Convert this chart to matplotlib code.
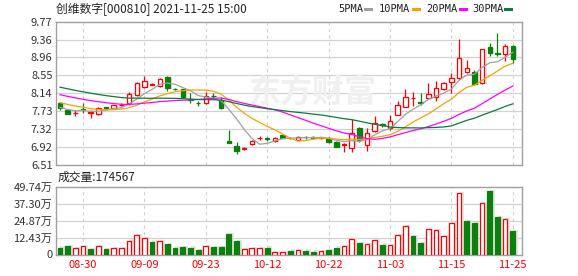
import matplotlib
matplotlib.use('Agg')
import matplotlib.pyplot as plt
import numpy as np
import pandas as pd
from matplotlib.lines import Line2D

plt.rcParams['font.family'] = ['Noto Sans CJK SC', 'DejaVu Sans']

# data (price in yuan, volume in 万)
dates = ['08-25', '08-26', '08-27', '08-30', '08-31', '09-01', '09-02', '09-03', '09-06', '09-07',
         '09-08', '09-09', '09-10', '09-13', '09-14', '09-15', '09-16', '09-17', '09-22', '09-23',
         '09-24', '09-27', '09-28', '09-29', '09-30', '10-08', '10-11', '10-12', '10-13', '10-14',
         '10-15', '10-18', '10-19', '10-20', '10-21', '10-22', '10-25', '10-26', '10-27', '10-28',
         '10-29', '11-01', '11-02', '11-03', '11-04', '11-05', '11-08', '11-09', '11-10', '11-11',
         '11-12', '11-15', '11-16', '11-17', '11-18', '11-19', '11-22', '11-23', '11-24', '11-25']

opens = [7.91, 7.76, 7.69, 7.79, 7.69, 7.66, 7.82, 7.80, 7.87, 7.93,
         8.10, 8.28, 8.34, 8.31, 8.52, 8.24, 8.23, 8.01, 7.92, 7.92,
         8.09, 8.00, 7.05, 6.94, 6.87, 6.98, 7.12, 7.12, 7.05, 7.19,
         7.13, 7.09, 7.15, 7.14, 7.12, 7.13, 7.04, 6.96, 6.90, 7.36,
         6.97, 7.29, 7.44, 7.35, 7.65, 7.84, 8.03, 7.95, 8.04, 8.06,
         8.23, 8.39, 8.50, 8.63, 8.63, 8.37, 9.20, 9.06, 9.03, 9.22]
highs = [7.95, 7.77, 7.76, 7.91, 7.75, 7.83, 7.84, 7.88, 7.91, 8.16,
         8.40, 8.53, 8.38, 8.50, 8.53, 8.27, 8.25, 8.14, 7.96, 8.16,
         8.14, 8.05, 7.31, 7.04, 6.93, 7.08, 7.16, 7.14, 7.14, 7.20,
         7.15, 7.17, 7.16, 7.16, 7.15, 7.14, 7.05, 7.02, 7.55, 7.37,
         7.35, 7.62, 7.46, 7.65, 7.97, 8.23, 8.18, 8.15, 8.38, 8.42,
         8.40, 8.61, 9.38, 8.91, 8.67, 9.15, 9.29, 9.52, 9.26, 9.23]
lows = [7.76, 7.66, 7.63, 7.70, 7.57, 7.65, 7.79, 7.79, 7.85, 7.88,
        8.08, 8.27, 8.32, 8.29, 8.20, 8.21, 8.03, 7.93, 7.86, 7.90,
        8.03, 7.78, 7.02, 6.76, 6.86, 6.97, 7.07, 7.05, 7.04, 7.12,
        7.10, 7.07, 7.11, 7.11, 7.10, 7.02, 6.91, 6.81, 6.80, 7.04,
        6.83, 7.27, 7.37, 7.31, 7.64, 7.83, 7.86, 7.88, 8.03, 7.96,
        8.22, 8.14, 8.45, 8.60, 8.33, 8.36, 9.00, 9.00, 8.88, 8.84]
closes = [7.80, 7.67, 7.70, 7.77, 7.71, 7.81, 7.80, 7.87, 7.88, 8.12,
          8.37, 8.43, 8.35, 8.46, 8.26, 8.23, 8.05, 8.00, 7.91, 8.09,
          8.07, 7.80, 7.02, 6.82, 6.89, 7.06, 7.13, 7.10, 7.12, 7.13,
          7.12, 7.15, 7.14, 7.13, 7.14, 7.03, 6.93, 6.98, 7.23, 7.08,
          7.23, 7.46, 7.42, 7.51, 7.87, 8.05, 8.04, 7.93, 8.12, 8.26,
          8.37, 8.50, 8.94, 8.71, 8.35, 9.14, 9.05, 9.04, 9.22, 8.92]
volumes = [5.1, 6.5, 4.9, 6.1, 4.1, 6.1, 4.1, 4.9, 4.9, 9.9,
           14.3, 12.1, 9.5, 9.9, 8.0, 5.1, 5.8, 5.1, 3.6, 6.3,
           5.8, 5.8, 15.3, 10.2, 4.1, 4.9, 4.9, 5.1, 1.9, 1.9,
           2.9, 3.4, 2.9, 2.2, 2.7, 3.6, 5.1, 6.1, 11.2, 8.7,
           7.8, 10.7, 7.3, 7.0, 14.3, 20.9, 13.6, 8.7, 18.7, 18.0,
           13.6, 23.0, 45.4, 24.7, 23.3, 37.6, 46.6, 27.7, 26.0, 17.4567]
# closes before the window, only used so the moving averages start right
prior_closes = [8.75, 8.80, 8.72, 8.66, 8.70, 8.58, 8.55, 8.50, 8.52, 8.42,
                8.45, 8.38, 8.40, 8.33, 8.30, 8.25, 8.28, 8.20, 8.18, 8.13,
                8.10, 8.06, 8.02, 8.05, 7.97, 7.90, 7.86, 7.72, 7.82]

price_ticks = [6.51, 6.92, 7.32, 7.73, 8.14, 8.55, 8.96, 9.36, 9.77]
vol_ticks = [0, 12.43, 24.87, 37.30, 49.74]
vol_labels = ['0', '12.43万', '24.87万', '37.30万', '49.74万']
ma_windows = [5, 10, 20, 30]
ma_colors = ['#a0a0a0', '#f5a300', '#ff00ff', '#0b7b3b']

RED = '#ff0000'
GREEN = '#0c800c'
GRID = '#d2d2d2'
W, H = 578, 276

x = np.arange(len(closes))
o = np.array(opens)
c = np.array(closes)
hi = np.array(highs)
lo = np.array(lows)
vol = np.array(volumes)

all_close = pd.Series(prior_closes + closes)
n0 = len(prior_closes)

fig = plt.figure(figsize=(W / 100, H / 100), dpi=100)
ax = fig.add_axes([56 / W, 1 - 165 / H, 466 / W, 143.3 / H])
axv = fig.add_axes([56 / W, 1 - 254.5 / H, 466 / W, 67.8 / H])

tick_idx = list(range(3, len(dates), 8))

for a in (ax, axv):
    a.set_xlim(-0.52, 60.2)
    for s in a.spines.values():
        s.set_color('#a0a0a0')
        s.set_linewidth(1.0)
    a.tick_params(length=0, labelsize=8, colors='#333333', pad=2.5)
    for t in tick_idx:
        a.axvline(t, color=GRID, lw=0.8, ls=(0, (3, 3)), zorder=0)
    a.set_xticks(tick_idx)

ax.set_xticklabels([])
axv.set_xticklabels([dates[i] for i in tick_idx], color=RED, fontsize=8)
axv.tick_params(axis='x', pad=4)

# price panel
ax.set_ylim(price_ticks[0], price_ticks[-1])
ax.set_yticks(price_ticks)
ax.set_yticklabels(['%.2f' % v for v in price_ticks])
for v in price_ticks[1:-1]:
    ax.axhline(v, color=GRID, lw=0.9, zorder=0)

# faint watermark
ax.text(0.55, 0.5, '东方财富', transform=ax.transAxes, fontsize=23, fontweight='bold',
        color='#f0f0f0', ha='center', va='center', zorder=0)

up = c >= o
bw = 0.58
ax.vlines(x, lo, hi, colors=np.where(up, RED, GREEN), lw=0.9, zorder=3)
body_h = np.maximum(np.abs(c - o), 0.008)
body_y = np.minimum(o, c)
ax.bar(x + 0.3, body_h, bw, bottom=body_y - 0.02, color='#e6e6e6', zorder=2, linewidth=0)
ax.bar(x[up], body_h[up], bw, bottom=body_y[up], facecolor='white', edgecolor=RED, lw=0.9, zorder=4)
ax.bar(x[~up], body_h[~up], bw, bottom=body_y[~up], facecolor=GREEN, edgecolor=GREEN, lw=0.9, zorder=4)

for win, col in zip(ma_windows, ma_colors):
    ma = all_close.rolling(win).mean().values[n0:]
    ax.plot(x, ma, color=col, lw=0.9, zorder=5)

# volume panel
axv.set_ylim(0, vol_ticks[-1])
axv.set_yticks(vol_ticks)
axv.set_yticklabels(vol_labels)
for v in vol_ticks[1:-1]:
    axv.axhline(v, color=GRID, lw=0.9, zorder=0)

prev = np.concatenate([[prior_closes[-1]], c[:-1]])
vup = c >= prev
vw = 0.62
axv.bar(x + 0.35, vol + 0.8, vw, color='#e4e4e4', zorder=1, linewidth=0)
axv.bar(x[vup], vol[vup], vw, facecolor='white', edgecolor=RED, lw=0.9, zorder=3)
axv.bar(x[~vup], vol[~vup], vw, facecolor=GREEN, edgecolor=GREEN, lw=0.9, zorder=3)

# header texts
fig.text(56 / W, 1 - 9 / H, '创维数字[000810] 2021-11-25 15:00', fontsize=8.5, color='#222222',
         ha='left', va='center')
fig.text(58 / W, 1 - 177 / H, '成交量:%d' % round(volumes[-1] * 10000), fontsize=8.5,
         color='#222222', ha='left', va='center')

leg_x = [338, 379, 426, 472]
dash_x = [365, 413, 460, 505]
for win, col, tx, dx in zip(ma_windows, ma_colors, leg_x, dash_x):
    fig.text(tx / W, 1 - 9 / H, '%dPMA' % win, fontsize=7.5, family='DejaVu Sans Mono',
             color='#222222', ha='left', va='center')
    fig.add_artist(Line2D([dx / W, (dx + 6) / W], [1 - 9 / H, 1 - 9 / H], color=col, lw=2.2,
                          transform=fig.transFigure))

fig.savefig('out.png', dpi=100, facecolor='white')
